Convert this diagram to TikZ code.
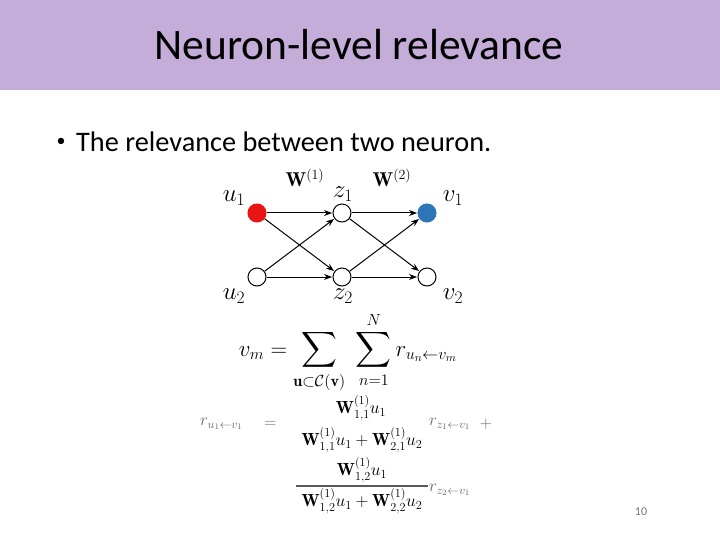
\RequirePackage{fix-cm}
\documentclass[tikz,border=0pt]{standalone}
\usepackage{amsmath}
\usepackage{fontspec}
\newfontfamily\carlito{Carlito}
\usetikzlibrary{arrows.meta}
\definecolor{band}{RGB}{197,173,217}
\definecolor{ured}{RGB}{235,20,20}
\definecolor{vblue}{RGB}{46,117,182}
\definecolor{faded}{RGB}{105,105,105}
\tikzset{
  neuron/.style={circle,draw=black,line width=1pt,minimum size=18pt,inner sep=0pt,fill=white},
  conn/.style={-{Stealth[length=8pt,width=6pt]},line width=1pt,shorten >=0.5pt},
  lab/.style={inner sep=0pt,font=\fontsize{25}{28}\selectfont},
  wlab/.style={inner sep=0pt,font=\fontsize{20}{23}\selectfont},
  eq/.style={inner sep=0pt,font=\fontsize{23}{27}\selectfont},
  eqs/.style={inner sep=0pt,font=\fontsize{17.5}{21}\selectfont},
  rfade/.style={inner sep=0pt,text=faded,font=\fontsize{17}{20}\selectfont}
}
\begin{document}
\begin{tikzpicture}[x=1pt,y=-1pt]
\useasboundingbox (0,0) rectangle (720,540);
\fill[white] (0,0) rectangle (720,540);
\fill[band] (0,0) rectangle (720,90);
\node[inner sep=0pt,font=\carlito\fontsize{43.5}{50}\selectfont] (title) at (359,45) {Neuron-level relevance};
\node[inner sep=0pt,font=\carlito\fontsize{18}{20}\selectfont] (dot) at (61,142) {•};
\node[inner sep=0pt,anchor=west,font=\carlito\fontsize{28.3}{32}\selectfont] (bullet) at (76,142) {The relevance between two neuron.};
% network
\node[neuron,fill=ured,draw=ured] (u1) at (257,213) {};
\node[neuron] (z1) at (342,213) {};
\node[neuron,fill=vblue,draw=vblue] (v1) at (427,213) {};
\node[neuron] (u2) at (257,277) {};
\node[neuron] (z2) at (342,277) {};
\node[neuron] (v2) at (427,277) {};
\foreach \a/\b in {u1/z1,u1/z2,u2/z1,u2/z2,z1/v1,z1/v2,z2/v1,z2/v2}
  \draw[conn] (\a) -- (\b);
\node[lab] (lu1) at (234,198) {$u_1$};
\node[lab] (lu2) at (234,296) {$u_2$};
\node[lab] (lz1) at (343,194) {$z_1$};
\node[lab] (lz2) at (343,296) {$z_2$};
\node[lab] (lv1) at (453,198) {$v_1$};
\node[lab] (lv2) at (453,296) {$v_2$};
\node[wlab] (w1) at (305,178) {$\mathbf{W}^{(1)}$};
\node[wlab] (w2) at (392,178) {$\mathbf{W}^{(2)}$};
% sum equation
\node[eq,anchor=base] (sum) at (348,356) {$\displaystyle v_m = \sum_{\mathbf{u}\subset\mathcal{C}(\mathbf{v})}\ \sum_{n=1}^{N} r_{u_n\leftarrow v_m}$};
% relevance equation
\node[rfade,anchor=west] (r1) at (200,424) {$r_{u_1\leftarrow v_1}$};
\node[rfade,anchor=west] (eqsign) at (264,424) {$=$};
\node[eqs] (num1) at (361,408) {$\mathbf{W}^{(1)}_{1,1}u_1$};
\node[eqs] (den1) at (362,440) {$\mathbf{W}^{(1)}_{1,1}u_1+\mathbf{W}^{(1)}_{2,1}u_2$};
\node[rfade,anchor=west] (rz1) at (429,424) {$r_{z_1\leftarrow v_1}$};
\node[rfade] (plus) at (486,424) {$+$};
\node[eqs] (num2) at (362,470) {$\mathbf{W}^{(1)}_{1,2}u_1$};
\node[eqs] (den2) at (362,501) {$\mathbf{W}^{(1)}_{1,2}u_1+\mathbf{W}^{(1)}_{2,2}u_2$};
\coordinate (barl) at (296,486);
\coordinate (barr) at (428,486);
\draw[line width=1.2pt,color=black!65] (barl) -- (barr);
\node[rfade,anchor=west] (rz2) at (429,490) {$r_{z_2\leftarrow v_1}$};
\node[inner sep=0pt,text=black!55,font=\carlito\fontsize{12}{14}\selectfont] (page) at (641,512) {10};
\end{tikzpicture}
\end{document}
